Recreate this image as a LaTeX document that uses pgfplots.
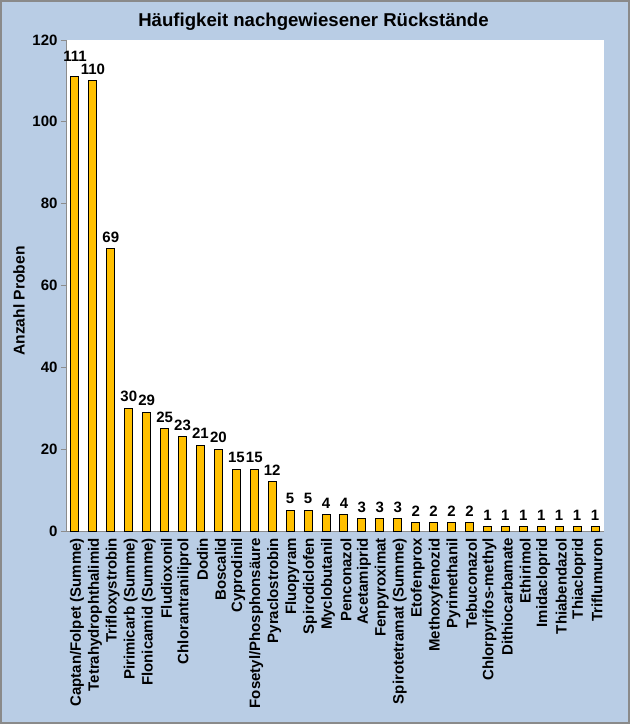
\documentclass[border=0pt]{standalone}
\usepackage{fontspec}
\setmainfont{Liberation Sans}
\usepackage{pgfplots}
\pgfplotsset{compat=1.18}
\definecolor{bgblue}{HTML}{B9CDE5}
\definecolor{bargold}{HTML}{FFC000}
\definecolor{framegray}{HTML}{8A8A8A}
\definecolor{axgray}{HTML}{8C8C8C}
\begin{document}
\begin{tikzpicture}
\fill[bgblue] (0pt,0pt) rectangle (630pt,724pt);
\draw[framegray,line width=2pt] (1pt,1pt) rectangle (629pt,723pt);
\useasboundingbox (0pt,0pt) rectangle (630pt,724pt);
\node[font=\bfseries\fontsize{18.6}{21}\selectfont] at (313.5pt,702pt) {Häufigkeit nachgewiesener Rückstände};
\node[font=\bfseries\fontsize{15.6}{18}\selectfont,rotate=90] at (19pt,423pt) {Anzahl Proben};
\begin{axis}[
  at={(66pt,193pt)}, anchor=south west,
  scale only axis, width=538pt, height=491pt,
  xmin=-0.5, xmax=29.5, ymin=0, ymax=120,
  ytick={0,20,...,120},
  axis x line*=bottom, axis y line*=left,
  axis line style={axgray, line width=0.8pt, -},
  axis background/.style={fill=white},
  tick style={axgray, line width=0.8pt},
  tick align=outside,
  major tick length=5pt,
  xtick={0,...,29},
  x tick style={draw=none},
  minor xtick={-0.5,0.5,...,29.5},
  minor tick length=5pt,
  minor x tick style={axgray, line width=0.8pt},
  xticklabels={Captan/Folpet (Summe),Tetrahydrophthalimid,Trifloxystrobin,Pirimicarb (Summe),Flonicamid (Summe),Fludioxonil,Chlorantraniliprol,Dodin,Boscalid,Cyprodinil,Fosetyl/Phosphonsäure,Pyraclostrobin,Fluopyram,Spirodiclofen,Myclobutanil,Penconazol,Acetamiprid,Fenpyroximat,Spirotetramat (Summe),Etofenprox,Methoxyfenozid,Pyrimethanil,Tebuconazol,Chlorpyrifos-methyl,Dithiocarbamate,Ethirimol,Imidacloprid,Thiabendazol,Thiacloprid,Triflumuron},
  x tick label style={rotate=90, anchor=east, font=\bfseries\fontsize{15}{17}\selectfont, inner sep=2pt},
  y tick label style={font=\bfseries\fontsize{15}{17}\selectfont},
  /pgf/number format/assume math mode=true,
  xticklabel style={yshift=-2pt},
  nodes near coords,
  visualization depends on={ifthenelse(x==0,9,0) \as \extrashift},
  every node near coord/.append style={font=\bfseries\fontsize{15}{17}\selectfont, black, inner sep=2pt, yshift=4pt+\extrashift pt},
  clip=false,
]
\addplot[ybar, bar width=8pt, bar shift=0pt, fill=bargold, draw=black, line width=1pt] coordinates {
(0,111) (1,110) (2,69) (3,30) (4,29) (5,25) (6,23) (7,21) (8,20) (9,15) (10,15) (11,12)
(12,5) (13,5) (14,4) (15,4) (16,3) (17,3) (18,3) (19,2) (20,2) (21,2) (22,2)
(23,1) (24,1) (25,1) (26,1) (27,1) (28,1) (29,1)
};
\end{axis}
\end{tikzpicture}
\end{document}
